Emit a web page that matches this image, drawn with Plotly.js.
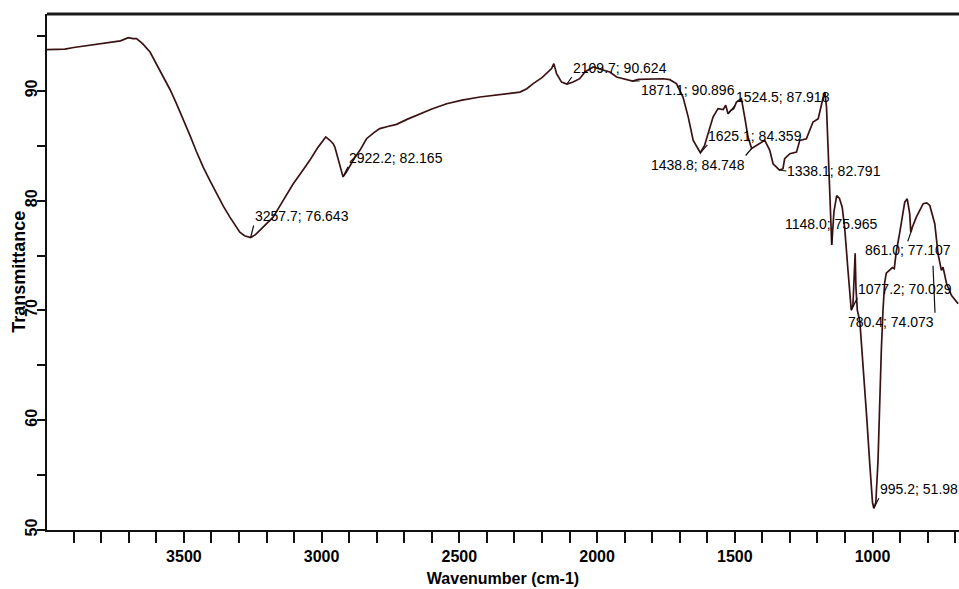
<!DOCTYPE html>
<html>
<head>
<meta charset="utf-8">
<script src="https://cdn.plot.ly/plotly-3.0.1.min.js"></script>
<style>
html,body{margin:0;padding:0;background:#fff;}
#chart{width:959px;height:589px;}
</style>
</head>
<body>
<div id="chart"></div>
<script>
// Spectrum: wavenumber (cm-1) and transmittance
const wavenumber = [
  3997, 3960, 3932, 3900, 3870, 3841, 3800, 3757, 3730, 3702, 3685, 3672, 3650, 3623, 3600,
  3575, 3550, 3527, 3500, 3478, 3455, 3430, 3405, 3381, 3357, 3333, 3315, 3297, 3280, 3267,
  3257.7, 3240, 3224, 3200, 3176, 3140, 3103, 3070, 3043, 3015, 2985, 2970, 2958, 2952, 2934,
  2922.2, 2910, 2897, 2880, 2861, 2837, 2810, 2789, 2760, 2728, 2690, 2643, 2600, 2546, 2490,
  2425, 2380, 2329, 2280, 2255, 2232, 2200, 2183, 2165, 2157, 2147, 2129, 2109.7, 2087, 2063,
  2044, 2014, 1985, 1954, 1929, 1900, 1871.1, 1850, 1796, 1760, 1736, 1712, 1688, 1669, 1651,
  1640, 1625.1, 1610, 1597, 1579, 1561, 1542, 1533, 1524.5, 1515, 1504, 1494, 1476, 1464, 1452,
  1438.8, 1421, 1391, 1373, 1361, 1343, 1338.1, 1325, 1319, 1300, 1276, 1264, 1240, 1216, 1197,
  1179, 1173, 1167, 1161, 1155, 1148.0, 1145, 1140, 1130, 1120, 1110, 1101, 1089, 1077.2, 1071,
  1066, 1063, 1060, 1055, 1046, 1034, 1021, 1010, 1000, 995.2, 988, 980, 974, 968, 962,
  956, 950, 939, 928, 921, 914, 901, 890, 883, 874, 865, 861.0, 855, 841, 816,
  803, 792, 774, 762, 750, 744, 731, 713, 689
];
const transmittance = [
  93.76, 93.78, 93.80, 93.95, 94.05, 94.15, 94.25, 94.40, 94.55, 94.85, 94.75, 94.76, 94.30, 93.54, 92.50,
  91.26, 90.10, 88.83, 87.30, 85.94, 84.50, 83.05, 81.80, 80.63, 79.50, 78.50, 77.80, 77.13, 76.80, 76.67,
  76.643, 76.90, 77.28, 77.90, 78.50, 80.00, 81.54, 82.70, 83.67, 84.80, 85.80, 85.50, 85.19, 84.88, 83.36,
  82.165, 82.60, 83.21, 83.90, 84.58, 85.64, 86.20, 86.56, 86.75, 86.95, 87.40, 87.92, 88.35, 88.83, 89.15,
  89.44, 89.60, 89.75, 89.89, 90.20, 90.66, 91.20, 91.57, 92.03, 92.48, 91.57, 90.80, 90.624, 90.80, 91.11,
  91.72, 92.17, 91.95, 91.72, 91.26, 91.10, 90.896, 91.05, 91.11, 91.10, 91.02, 90.66, 89.44, 87.61, 85.49,
  85.00, 84.359, 85.00, 86.10, 87.61, 88.38, 88.30, 88.70, 87.918, 88.20, 88.38, 88.98, 89.29, 87.61, 85.79,
  84.748, 85.03, 85.49, 84.58, 83.36, 82.91, 82.791, 82.91, 83.82, 84.28, 84.42, 85.49, 85.64, 87.16, 87.47,
  89.44, 89.89, 88.52, 85.19, 80.63, 75.965, 77.59, 79.00, 80.45, 80.20, 79.40, 77.50, 73.64, 70.029, 70.50,
  73.00, 75.20, 72.00, 70.00, 69.00, 65.13, 60.26, 56.02, 52.50, 51.98, 52.52, 56.32, 61.79, 66.35, 70.00,
  72.50, 73.40, 73.64, 73.90, 73.80, 75.30, 77.11, 79.00, 79.86, 80.17, 78.81, 77.107, 77.60, 78.50, 79.72,
  79.80, 79.56, 77.90, 75.16, 73.64, 73.94, 72.43, 71.36, 70.60
];

// Labelled peaks
const peakWavenumber = [3257.7, 2922.2, 2109.7, 1871.1, 1625.1, 1524.5, 1438.8, 1338.1, 1148.0, 1077.2, 995.2, 861.0, 780.4];
const peakTransmittance = [76.643, 82.165, 90.624, 90.896, 84.359, 87.918, 84.748, 82.791, 75.965, 70.029, 51.98, 77.107, 74.073];

// Axis ticks and titles
const xTickValues = [3500, 3000, 2500, 2000, 1500, 1000];
const yTickValues = [50, 60, 70, 80, 90];
const xTitle = 'Wavenumber (cm-1)';
const yTitle = 'Transmittance';

// label placement (pixel offsets of the label from its peak, and anchors)
const labelPlacement = [
  {ax: 3, ay: -12, xa: 'left', ya: 'bottom'},
  {ax: 5, ay: -10, xa: 'left', ya: 'bottom'},
  {ax: 5, ay: -7, xa: 'left', ya: 'bottom'},
  {ax: 7, ay: 0, xa: 'left', ya: 'top'},
  {ax: 7, ay: -8, xa: 'left', ya: 'bottom'},
  {ax: 7, ay: -8, xa: 'left', ya: 'bottom'},
  {ax: -6, ay: 7, xa: 'right', ya: 'top'},
  {ax: 7, ay: 1, xa: 'left', ya: 'middle'},
  {ax: 0, ay: -12, xa: 'center', ya: 'bottom'},
  {ax: 6, ay: -12, xa: 'left', ya: 'bottom'},
  {ax: 5, ay: -10, xa: 'left', ya: 'bottom'},
  {ax: -3, ay: 9, xa: 'center', ya: 'top'},
  {ax: 2, ay: 47, xa: 'right', ya: 'top'}
];

const FONT = '"Liberation Sans", Arial, Helvetica, sans-serif';
const INK = '#000000';
const LINE = '#3a1214';

const annotations = peakWavenumber.map((w, i) => ({
  x: w, y: peakTransmittance[i], xref: 'x', yref: 'y',
  text: w.toFixed(1) + '; ' + peakTransmittance[i],
  showarrow: true, arrowhead: 0, arrowwidth: 1.2, arrowcolor: '#111',
  ax: labelPlacement[i].ax, ay: labelPlacement[i].ay,
  axref: 'pixel', ayref: 'pixel',
  xanchor: labelPlacement[i].xa, yanchor: labelPlacement[i].ya,
  borderpad: 0, standoff: 0, startstandoff: 0,
  font: {family: FONT, size: 14, color: INK}
}));

// y-axis title placed as rotated text beside the tick labels
annotations.push({
  xref: 'paper', yref: 'paper', x: -0.031, y: 0.5,
  xanchor: 'center', yanchor: 'middle', textangle: -90, showarrow: false,
  text: yTitle,
  font: {family: FONT, size: 18, color: INK, weight: 'bold'}
});

const trace = {
  x: wavenumber, y: transmittance, type: 'scatter', mode: 'lines',
  line: {color: LINE, width: 1.7}, hoverinfo: 'skip', showlegend: false
};

const layout = {
  width: 959, height: 589,
  margin: {l: 47, r: 0, t: 14, b: 59, pad: 0},
  paper_bgcolor: '#ffffff', plot_bgcolor: '#ffffff',
  font: {family: FONT, color: INK},
  showlegend: false,
  xaxis: {
    range: [3997, 686], autorange: false,
    tickmode: 'array', tickvals: xTickValues, ticktext: xTickValues.map(String),
    ticks: 'outside', ticklen: 11, tickwidth: 2, tickcolor: '#111',
    minor: {dtick: 100, tick0: 0, ticks: 'outside', ticklen: 11, tickwidth: 2, tickcolor: '#111', showgrid: false},
    showline: true, linewidth: 2.2, linecolor: '#111',
    showgrid: false, zeroline: false,
    tickfont: {family: FONT, size: 16, color: INK, weight: 'bold'},
    title: {text: xTitle, font: {family: FONT, size: 16, color: INK, weight: 'bold'}, standoff: 8}
  },
  yaxis: {
    range: [50, 97], autorange: false,
    tickmode: 'array', tickvals: yTickValues, ticktext: yTickValues.map(String),
    ticks: 'outside', ticklen: 8, tickwidth: 2, tickcolor: '#111',
    minor: {dtick: 5, tick0: 0, ticks: 'outside', ticklen: 8, tickwidth: 2, tickcolor: '#111', showgrid: false},
    tickangle: -90, ticklabelstandoff: -7,
    showline: true, linewidth: 2.2, linecolor: '#111',
    showgrid: false, zeroline: false,
    tickfont: {family: FONT, size: 16, color: INK, weight: 'bold'}
  },
  shapes: [
    {type: 'line', xref: 'paper', yref: 'paper', x0: 0, x1: 1, y0: 1, y1: 1,
     line: {color: '#1a1a1a', width: 3}}
  ],
  annotations: annotations
};

Plotly.newPlot('chart', [trace], layout, {staticPlot: true, displayModeBar: false});
</script>
</body>
</html>
